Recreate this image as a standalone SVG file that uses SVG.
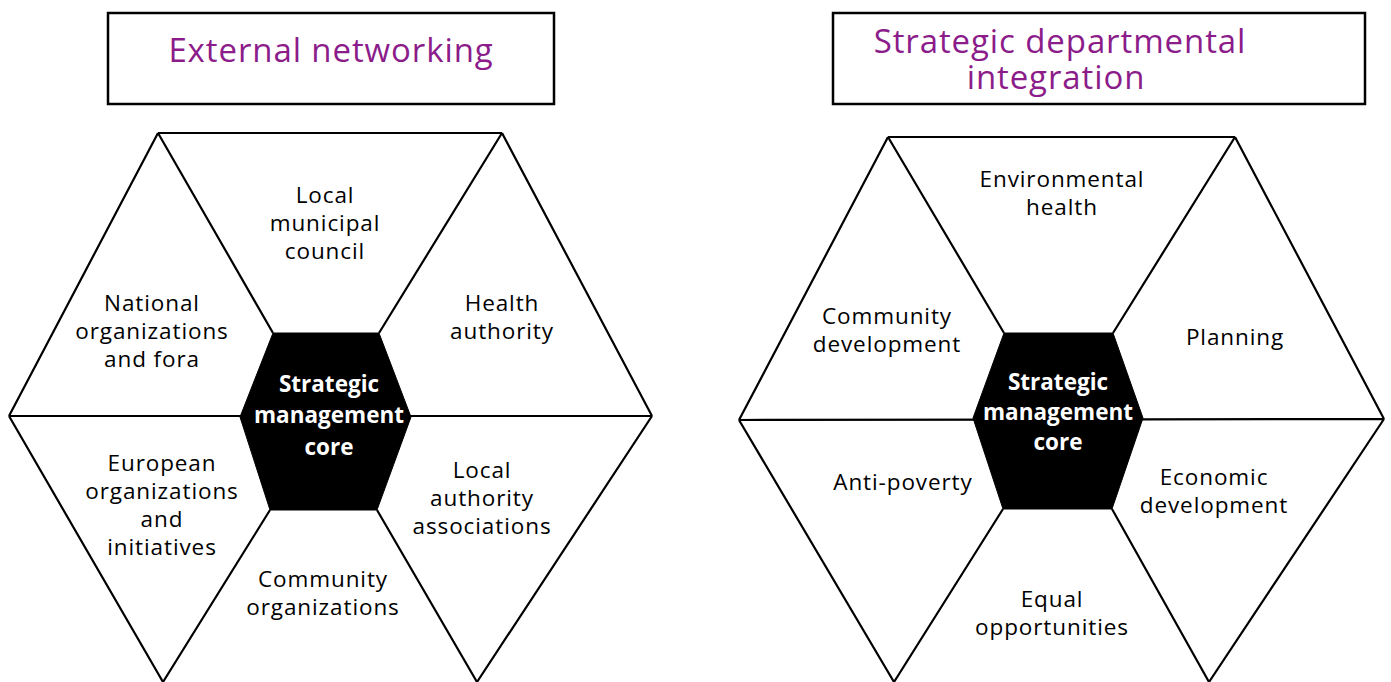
<svg xmlns="http://www.w3.org/2000/svg" width="1391" height="682" viewBox="0 0 1391 682">
<style>
.box{fill:#fff;stroke:#000;stroke-width:2.5}
.ln{fill:none;stroke:#000;stroke-width:2.2;stroke-linejoin:miter}
.core{fill:#000;stroke:#000;stroke-width:1}
.title{font-family:"Open Sans","Liberation Sans",sans-serif;font-size:33px;letter-spacing:0.9px;fill:#8B1C8A;text-anchor:middle}
.lbl{font-family:"Open Sans","Liberation Sans",sans-serif;font-size:22.5px;letter-spacing:0.9px;fill:#000;text-anchor:middle}
.ctext{font-family:"Open Sans","Liberation Sans",sans-serif;font-size:22.5px;font-weight:bold;fill:#fff;text-anchor:middle}
</style>
<rect width="1391" height="682" fill="#fff"/>
<g id="title-left">
<rect class="box" x="108" y="13" width="446" height="91"/>
<text class="title" x="331" y="62">External networking</text>
</g>
<g id="title-right">
<rect class="box" x="833" y="13" width="532" height="91"/>
<text class="title" x="1060" y="53">Strategic departmental</text>
<text class="title" x="1056" y="89">integration</text>
</g>
<g id="connectors">
<path class="ln" d="M158,133 L502,133 M158,133 L9,416 M158,133 L273,333 M502,133 L652,416 M502,133 L379,333 M9,416 L652,416 M9,416 L163,682 M270,510 L163,682 M652,416 L477,682 M377,510 L477,682"/>
<path class="ln" d="M888,137 L1235,137 M888,137 L739,420 M888,137 L1004,333 M1235,137 L1384,419 M1235,137 L1113,333 M739,420 L1384,419 M739,420 L894,682 M1003,509 L894,682 M1384,419 L1209,682 M1112,509 L1209,682"/>
</g>
<g id="core-left">
<polygon class="core" points="273,333 379,333 411,417 377,510 270,510 240,417"/>
<text class="ctext" x="329" y="392">Strategic</text>
<text class="ctext" x="329" y="423">management</text>
<text class="ctext" x="329" y="455">core</text>
</g>
<g id="core-right">
<polygon class="core" points="1004,333 1113,333 1143,418 1112,509 1003,509 973,418"/>
<text class="ctext" x="1058" y="390">Strategic</text>
<text class="ctext" x="1058" y="420">management</text>
<text class="ctext" x="1058" y="450">core</text>
</g>
<g id="local-municipal-council">
<text class="lbl" x="325" y="203">Local</text>
<text class="lbl" x="325" y="231">municipal</text>
<text class="lbl" x="325" y="259">council</text>
</g>
<g id="national-organizations">
<text class="lbl" x="152" y="311">National</text>
<text class="lbl" x="152" y="339">organizations</text>
<text class="lbl" x="152" y="367">and fora</text>
</g>
<g id="health-authority">
<text class="lbl" x="502" y="311">Health</text>
<text class="lbl" x="502" y="339">authority</text>
</g>
<g id="european-organizations">
<text class="lbl" x="162" y="471">European</text>
<text class="lbl" x="162" y="499">organizations</text>
<text class="lbl" x="162" y="527">and</text>
<text class="lbl" x="162" y="555">initiatives</text>
</g>
<g id="local-authority-associations">
<text class="lbl" x="482" y="478">Local</text>
<text class="lbl" x="482" y="506">authority</text>
<text class="lbl" x="482" y="534">associations</text>
</g>
<g id="community-organizations">
<text class="lbl" x="323" y="587">Community</text>
<text class="lbl" x="323" y="615">organizations</text>
</g>
<g id="environmental-health">
<text class="lbl" x="1062" y="187">Environmental</text>
<text class="lbl" x="1062" y="215">health</text>
</g>
<g id="community-development">
<text class="lbl" x="887" y="324">Community</text>
<text class="lbl" x="887" y="352">development</text>
</g>
<g id="planning">
<text class="lbl" x="1235" y="345">Planning</text>
</g>
<g id="anti-poverty">
<text class="lbl" x="903" y="490">Anti-poverty</text>
</g>
<g id="economic-development">
<text class="lbl" x="1214" y="485">Economic</text>
<text class="lbl" x="1214" y="513">development</text>
</g>
<g id="equal-opportunities">
<text class="lbl" x="1052" y="607">Equal</text>
<text class="lbl" x="1052" y="635">opportunities</text>
</g>
</svg>
